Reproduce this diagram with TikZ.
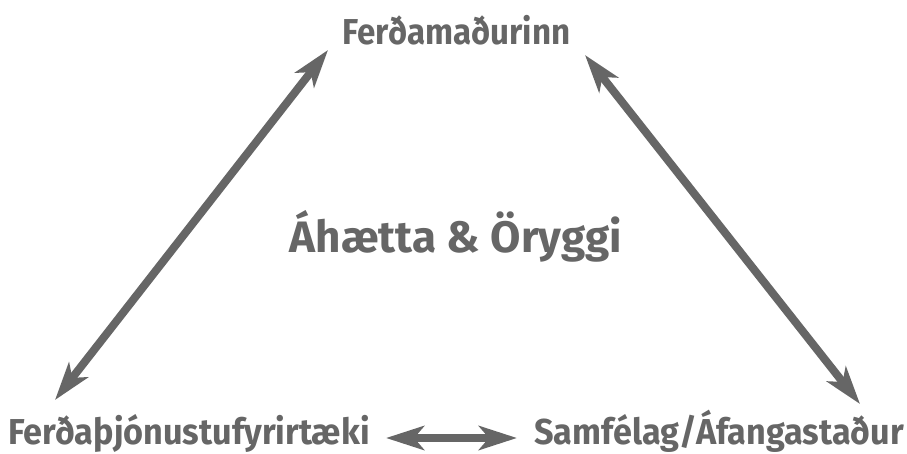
\documentclass[tikz,border=0pt]{standalone}
\usepackage{fontspec}
\setmainfont{Fira Sans}
\usetikzlibrary{arrows.meta}
\definecolor{txtgray}{RGB}{102,102,102}
\newcommand{\narrow}[2][0.92]{\scalebox{#1}[1]{#2}}
\begin{document}
\begin{tikzpicture}[x=1pt,y=-1pt,
  lbl/.style={text=txtgray,font=\bfseries\fontsize{36}{40}\selectfont,anchor=base,inner sep=0pt},
  biglbl/.style={text=txtgray,font=\bfseries\fontsize{44}{48}\selectfont,anchor=base,inner sep=0pt},
  link/.style={draw=txtgray,line width=8pt,{Stealth[length=38pt,width=24pt,inset=10pt]}-{Stealth[length=38pt,width=24pt,inset=10pt]}}]
\useasboundingbox[fill=white] (0,0) rectangle (907,454);
\node[lbl] (tour) at (456.5,45) {\narrow{Ferðamaðurinn}};
\node[lbl] (firm) at (189,444) {\narrow[0.95]{Ferðaþjónustufyrirtæki}};
\node[lbl] (comm) at (719,444) {\narrow[0.95]{Samfélag/Áfangastaður}};
\node[biglbl] (risk) at (456,253) {Áhætta \& Öryggi};
\coordinate (l1) at (328,50);
\coordinate (l2) at (55,400);
\coordinate (r1) at (585,55);
\coordinate (r2) at (860,404);
\coordinate (b1) at (386,438);
\coordinate (b2) at (517,438);
\draw[link] (l1) -- (l2);
\draw[link] (r1) -- (r2);
\draw[link] (b1) -- (b2);
\end{tikzpicture}
\end{document}
